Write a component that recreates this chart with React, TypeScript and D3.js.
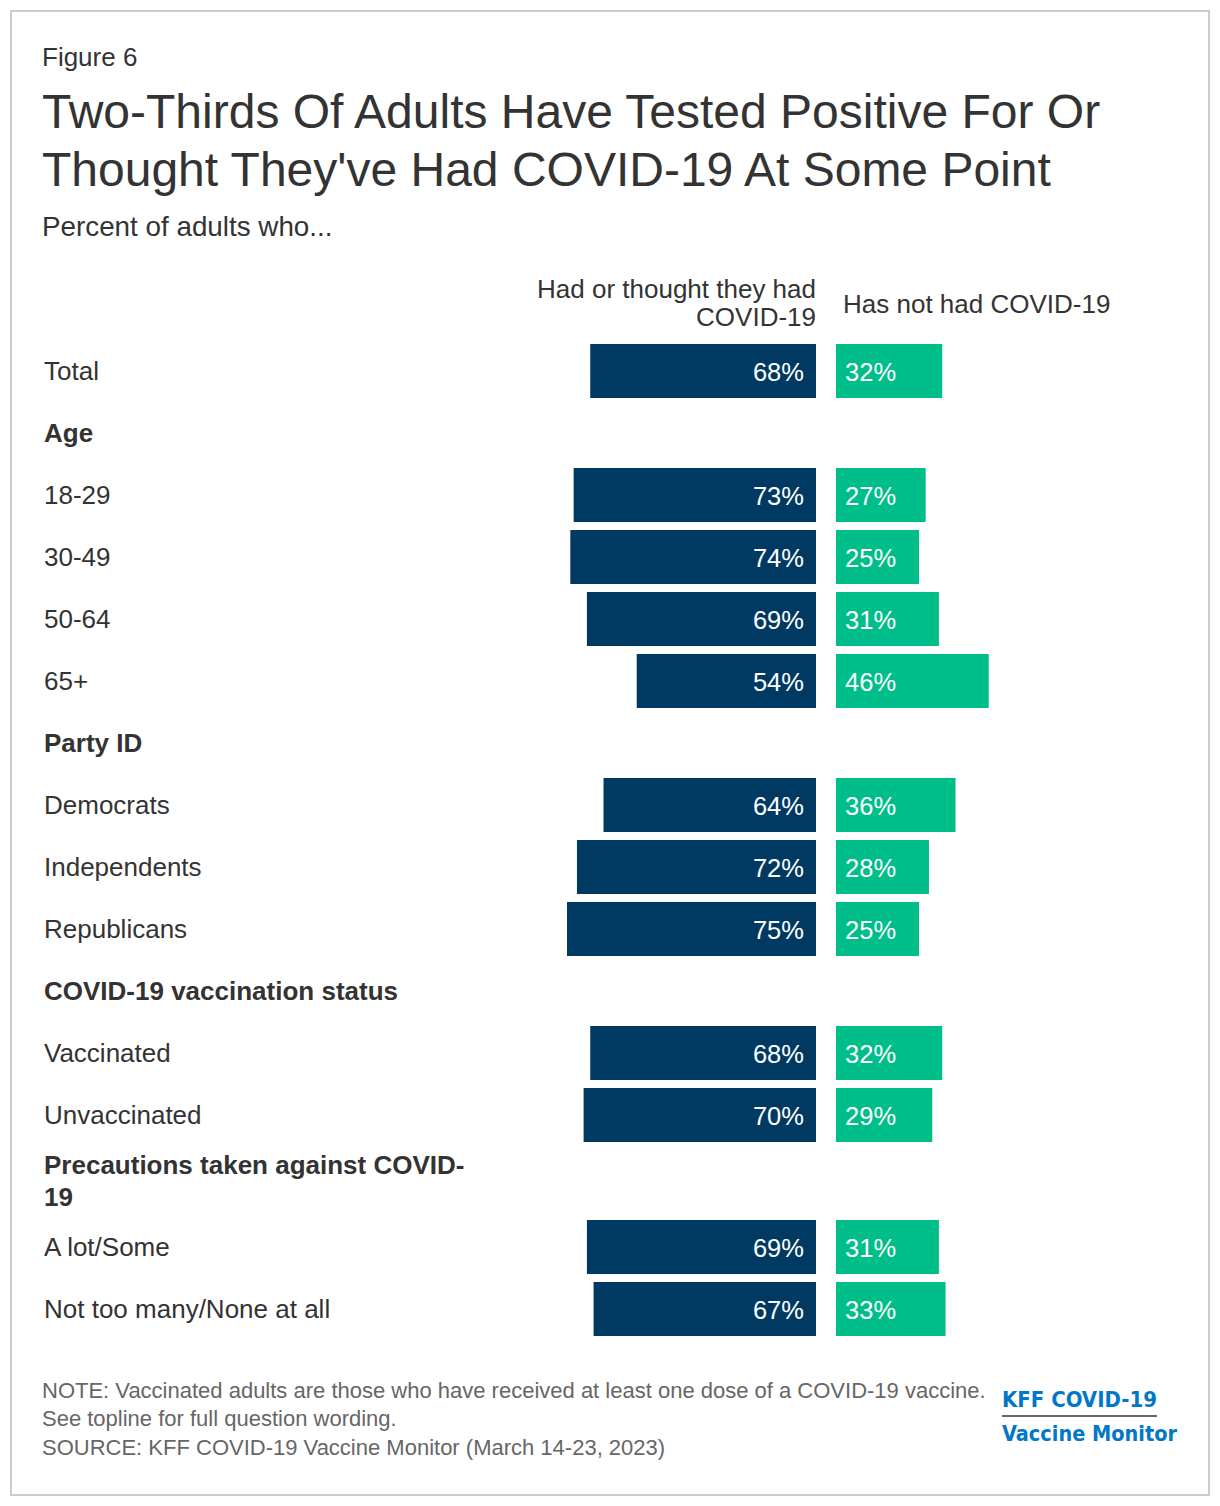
import React from "react";
import * as d3 from "d3";

const rowLabels = [
  "Total",
  "Age",
  "18-29",
  "30-49",
  "50-64",
  "65+",
  "Party ID",
  "Democrats",
  "Independents",
  "Republicans",
  "COVID-19 vaccination status",
  "Vaccinated",
  "Unvaccinated",
  "Precautions taken against COVID-\n19",
  "A lot/Some",
  "Not too many/None at all",
];
const rowIsHeader = [false, true, false, false, false, false, true, false, false, false, true, false, false, true, false, false];
const hadCovid = [68, null, 73, 74, 69, 54, null, 64, 72, 75, null, 68, 70, null, 69, 67];
const notHadCovid = [32, null, 27, 25, 31, 46, null, 36, 28, 25, null, 32, 29, null, 31, 33];
const seriesNames = ["Had or thought they had\nCOVID-19", "Has not had COVID-19"];

const NAVY = "#003A63";
const GREEN = "#00BE89";
const TEXT = "#333333";
const FONT = "'Liberation Sans', Arial, sans-serif";

export default function App() {
  const W = 1220;
  const H = 1506;
  const centerL = 816;
  const centerR = 836;
  const x = d3.scaleLinear().domain([0, 100]).range([0, 332]);

  const rowTop = 340;
  const baseRow = 62;
  const lineExtra = 8;
  const heights = rowLabels.map((l) => baseRow + (l.split("\n").length - 1) * lineExtra);
  const tops: number[] = [];
  let acc = rowTop;
  heights.forEach((h) => {
    tops.push(acc);
    acc += h;
  });
  const barH = 54;

  return (
    <div style={{ position: "absolute", left: 0, top: 0 }}>
      <svg width={W} height={H} viewBox={`0 0 ${W} ${H}`} style={{ display: "block", fontFamily: FONT }}>
        <rect x={0} y={0} width={W} height={H} fill="#fff" />
        <rect x={11} y={11} width={1198} height={1484} fill="none" stroke="#cccccc" strokeWidth={2} />
        <text x={42} y={66} fontSize={26} fill={TEXT}>Figure 6</text>
        <text x={42} y={128} fontSize={48} fill={TEXT}>Two-Thirds Of Adults Have Tested Positive For Or</text>
        <text x={42} y={186} fontSize={48} fill={TEXT}>Thought They've Had COVID-19 At Some Point</text>
        <text x={42} y={236} fontSize={27.8} fill={TEXT}>Percent of adults who...</text>

        {seriesNames[0].split("\n").map((t, i) => (
          <text key={"h0" + i} x={centerL} y={298 + i * 28} fontSize={26} fill={TEXT} textAnchor="end">{t}</text>
        ))}
        <text x={843} y={313} fontSize={26} fill={TEXT}>{seriesNames[1]}</text>

        {rowLabels.map((label, i) => {
          const top = tops[i];
          const cy = top + heights[i] / 2;
          const lines = label.split("\n");
          const lh = 32;
          const firstBase = cy - ((lines.length - 1) * lh) / 2 + 9;
          const a = hadCovid[i];
          const b = notHadCovid[i];
          return (
            <g key={i}>
              {lines.map((t, j) => (
                <text key={j} x={44} y={firstBase + j * lh} fontSize={26} fill={TEXT} fontWeight={rowIsHeader[i] ? "bold" : "normal"}>{t}</text>
              ))}
              {a != null && (
                <g>
                  <rect x={centerL - x(a)} y={cy - barH / 2} width={x(a)} height={barH} fill={NAVY} />
                  <text x={centerL - 12} y={cy + 9.5} fontSize={25.5} fill="#fff" textAnchor="end">{a}%</text>
                </g>
              )}
              {b != null && (
                <g>
                  <rect x={centerR} y={cy - barH / 2} width={x(b)} height={barH} fill={GREEN} />
                  <text x={centerR + 9} y={cy + 9.5} fontSize={25.5} fill="#fff">{b}%</text>
                </g>
              )}
            </g>
          );
        })}

        <text x={42} y={1398} fontSize={22} fill="#666666">NOTE: Vaccinated adults are those who have received at least one dose of a COVID-19 vaccine.</text>
        <text x={42} y={1426} fontSize={22} fill="#666666">See topline for full question wording.</text>
        <text x={42} y={1455} fontSize={22} fill="#666666">SOURCE: KFF COVID-19 Vaccine Monitor (March 14-23, 2023)</text>

        <text x={1002} y={1407} fontSize={22} fontWeight="bold" fill="#0077C8" textLength={155} lengthAdjust="spacingAndGlyphs" fontFamily="'DejaVu Sans Condensed', 'DejaVu Sans', sans-serif">KFF COVID-19</text>
        <line x1={1002} x2={1157} y1={1416} y2={1416} stroke="#333" strokeWidth={1.5} />
        <text x={1002} y={1441} fontSize={22} fontWeight="bold" fill="#0077C8" textLength={175} lengthAdjust="spacingAndGlyphs" fontFamily="'DejaVu Sans Condensed', 'DejaVu Sans', sans-serif">Vaccine Monitor</text>
      </svg>
    </div>
  );
}
